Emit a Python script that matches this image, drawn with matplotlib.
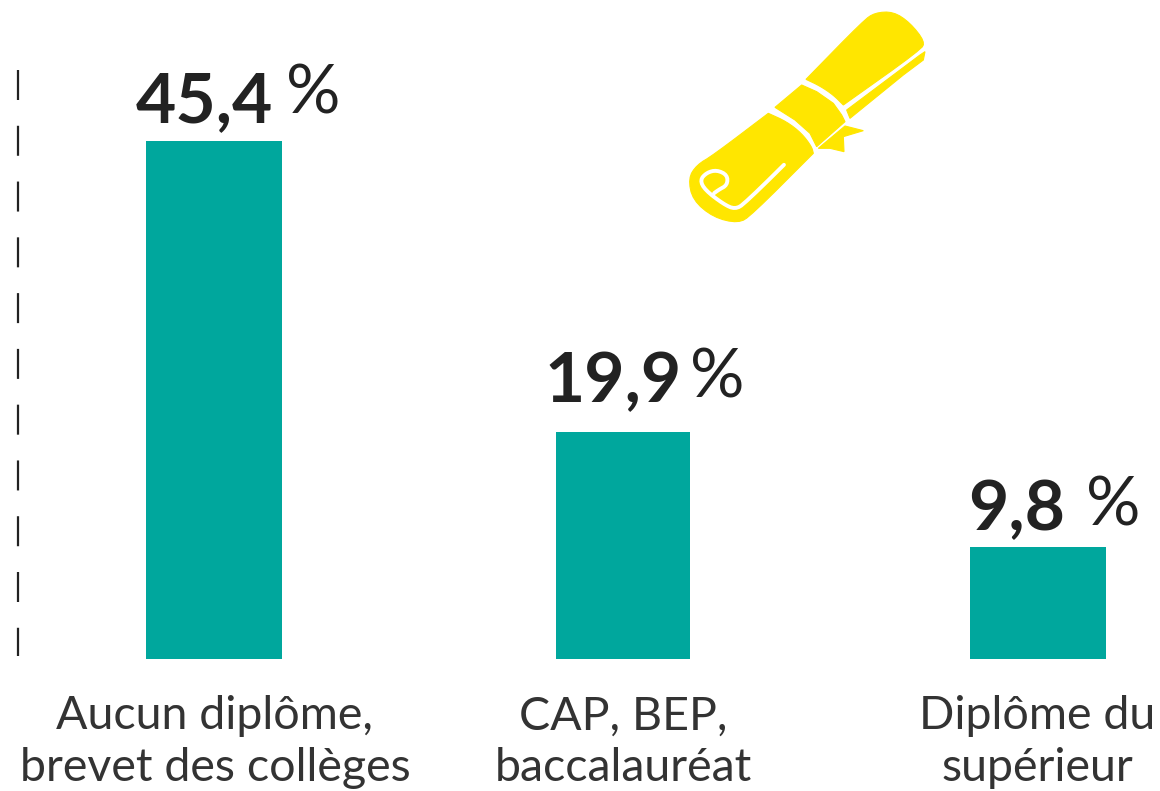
import matplotlib
matplotlib.use('Agg')
import matplotlib.pyplot as plt
from matplotlib.patches import Polygon

categories = ['Aucun diplôme,\nbrevet des collèges', 'CAP, BEP,\nbaccalauréat', 'Diplôme du\nsupérieur']
values = [45.4, 19.9, 9.8]
value_labels = ['45,4', '19,9', '9,8']

plt.rcParams['font.family'] = ['Lato', 'DejaVu Sans']

TEAL = '#00A79D'
YELLOW = '#FFE600'
DARK = '#222222'

fig = plt.figure(figsize=(11.6, 7.91), dpi=100)

# bars: 659 px tall axes, 11.41 px per percent
ax = fig.add_axes([0, (791 - 659) / 791, 1, 659 / 791])
ax.set_xlim(0, 1160)
ax.set_ylim(0, 659 / 11.41)
ax.axis('off')

centers = [213.5, 623, 1038]
widths = [136, 134, 136]
ax.bar(centers, values, width=widths, color=TEAL)

# overlay in pixel coordinates for the text and decoration
px = fig.add_axes([0, 0, 1, 1])
px.set_xlim(0, 1160)
px.set_ylim(791, 0)
px.axis('off')
px.patch.set_alpha(0)

# dashed line on the left
px.plot([18, 18], [70, 656], color='#222222', lw=1.6,
        dashes=(13.5, 11.6), dash_capstyle='butt')

# value labels
num_x = [136, 544, 968]
num_y = [122, 402, 530]
pct_x = [286, 690, 1086]
pct_y = [114, 397, 526]
for i in range(3):
    px.text(num_x[i], num_y[i], value_labels[i], fontsize=50, fontweight='bold',
            color=DARK, ha='left', va='baseline')
    px.text(pct_x[i], pct_y[i], '%', fontsize=49, color=DARK, ha='left', va='baseline')

# category labels
label_x = [215, 623, 1037]
for i in range(3):
    px.text(label_x[i], 781, categories[i], fontsize=33.5, color='#333333',
            ha='center', va='baseline', linespacing=1.28, multialignment='center')


# diploma icon, points read in a 3x crop starting at (670, 0)
def zoomed(points):
    return [(670 + x / 3, y / 3) for x, y in points]


def smooth(points, closed=True, rounds=2):
    for _ in range(rounds):
        out = []
        n = len(points)
        for i in range(n if closed else n - 1):
            a, b = points[i], points[(i + 1) % n]
            out.append((0.75 * a[0] + 0.25 * b[0], 0.75 * a[1] + 0.25 * b[1]))
            out.append((0.25 * a[0] + 0.75 * b[0], 0.25 * a[1] + 0.75 * b[1]))
        points = out
    return points


# repeated points keep the corners sharp when smoothed
upper_roll = [(408, 238), (408, 238), (580, 62), (615, 38), (670, 35), (720, 68), (765, 125),
              (752, 150), (520, 315), (520, 315), (490, 285), (450, 258), (408, 238)]
upper_strip = [(530, 330), (750, 165), (765, 155), (760, 180), (700, 225), (540, 355)]
band = [(315, 322), (395, 255), (440, 275), (490, 310), (515, 345), (525, 365), (440, 440),
        (420, 400), (375, 360)]
ribbon = [(445, 445), (525, 378), (580, 392), (520, 410), (522, 455), (480, 445)]
lower_roll = [(295, 340), (295, 340), (130, 465), (80, 495), (55, 535), (68, 600), (130, 652),
              (205, 670), (245, 645), (430, 460), (430, 460), (425, 440), (395, 400), (350, 365),
              (295, 340)]
curl_line = [(412, 425), (225, 610), (195, 628), (160, 612), (105, 570), (90, 540), (110, 518),
             (140, 510), (172, 525), (172, 555), (145, 570), (125, 585)]

for shape in [band, ribbon, upper_strip]:
    px.add_patch(Polygon(zoomed(shape), closed=True, facecolor=YELLOW, edgecolor=YELLOW, lw=0.8))
for shape in [upper_roll, lower_roll]:
    px.add_patch(Polygon(smooth(zoomed(shape)), closed=True, facecolor=YELLOW, edgecolor=YELLOW, lw=0.8))
curl = smooth(zoomed(curl_line), closed=False)
px.plot([p[0] for p in curl], [p[1] for p in curl], color='white', lw=2.8,
        solid_joinstyle='round', solid_capstyle='round')

fig.savefig('out.png', dpi=100, facecolor='white')
